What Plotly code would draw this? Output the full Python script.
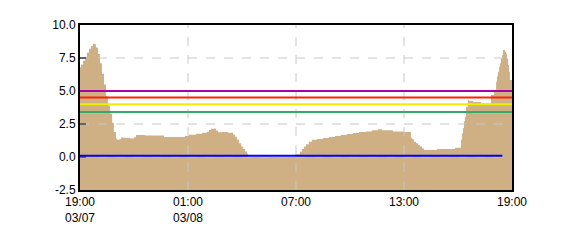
import plotly.graph_objects as go

YEAR = "2024-"
# area series (step values)
times = [
    "03-07 19:00", "03-07 19:03", "03-07 19:10", "03-07 19:17", "03-07 19:23", "03-07 19:30",
    "03-07 19:37", "03-07 19:43", "03-07 19:50", "03-07 19:53", "03-07 20:00", "03-07 20:07",
    "03-07 20:13", "03-07 20:20", "03-07 20:27", "03-07 20:33", "03-07 20:40", "03-07 20:47",
    "03-07 20:53", "03-07 21:00", "03-07 21:03", "03-07 21:10", "03-07 21:17", "03-07 21:23",
    "03-07 21:33", "03-07 21:47", "03-07 22:00", "03-07 22:07", "03-07 22:37", "03-07 23:40",
    "03-08 00:50", "03-08 01:03", "03-08 01:27", "03-08 01:47", "03-08 02:03", "03-08 02:10",
    "03-08 02:17", "03-08 02:27", "03-08 02:33", "03-08 02:40", "03-08 02:53", "03-08 03:13",
    "03-08 03:30", "03-08 03:37", "03-08 03:43", "03-08 03:50", "03-08 03:57", "03-08 04:03",
    "03-08 04:10", "03-08 04:17", "03-08 04:20", "03-08 06:57", "03-08 07:13", "03-08 07:20",
    "03-08 07:27", "03-08 07:33", "03-08 07:43", "03-08 07:53", "03-08 08:10", "03-08 08:30",
    "03-08 08:50", "03-08 09:10", "03-08 09:30", "03-08 09:50", "03-08 10:10", "03-08 10:30",
    "03-08 10:53", "03-08 11:13", "03-08 11:33", "03-08 11:47", "03-08 12:23", "03-08 13:00",
    "03-08 13:23", "03-08 13:27", "03-08 13:33", "03-08 13:40", "03-08 13:47", "03-08 13:53",
    "03-08 14:00", "03-08 14:07", "03-08 14:50", "03-08 15:50", "03-08 16:10", "03-08 16:13",
    "03-08 16:17", "03-08 16:20", "03-08 16:23", "03-08 16:27", "03-08 16:33", "03-08 16:37",
    "03-08 16:50", "03-08 17:17", "03-08 17:50", "03-08 18:00", "03-08 18:07", "03-08 18:10",
    "03-08 18:13", "03-08 18:17", "03-08 18:20", "03-08 18:23", "03-08 18:27", "03-08 18:30",
    "03-08 18:37", "03-08 18:40", "03-08 18:43", "03-08 18:47", "03-08 18:50", "03-08 18:53",
    "03-08 19:00",
]
values = [
    6.8, 7.0, 7.3, 7.6, 7.9, 8.2,
    8.4, 8.58, 8.55, 8.3, 7.8, 7.1,
    6.3, 5.5, 4.6, 3.9, 3.3, 2.6,
    1.9, 1.4, 1.3, 1.35, 1.5, 1.45,
    1.45, 1.4, 1.5, 1.67, 1.62, 1.52,
    1.6, 1.69, 1.77, 1.84, 1.92, 2.05,
    2.14, 2.15, 2.0, 1.88, 1.9, 1.84,
    1.7, 1.54, 1.3, 1.05, 0.8, 0.6,
    0.42, 0.25, 0.0, 0.2, 0.4, 0.6,
    0.8, 0.96, 1.16, 1.3, 1.36, 1.44,
    1.52, 1.59, 1.67, 1.74, 1.82, 1.89,
    1.94, 2.02, 2.1, 2.02, 1.94, 1.89,
    1.45, 1.34, 1.16, 1.05, 0.9, 0.8,
    0.65, 0.53, 0.6, 0.7, 1.3, 1.8,
    2.2, 2.7, 3.05, 3.8, 4.3, 4.24,
    4.17, 4.05, 4.7, 5.07, 5.7, 6.1,
    6.46, 6.84, 7.1, 7.47, 7.73, 8.1,
    7.95, 7.85, 7.47, 6.97, 6.46, 5.83,
    5.83,
]

# threshold lines
thr_values = [5.0, 4.5, 4.0, 3.4]
thr_colors = ["#aa00aa", "#ff2200", "#eeee00", "#33aa66"]

# zero reference line
zero_value = 0.1
zero_start = "03-07 19:00"
zero_end = "03-08 18:28"
zero_color = "#0000ff"

# axes
x_start = "03-07 19:00"
x_end = "03-08 19:00"
x_tickvals = ["03-07 19:00", "03-08 01:00", "03-08 07:00", "03-08 13:00", "03-08 19:00"]
x_ticktext = ["19:00<br>03/07", "01:00<br>03/08", "07:00", "13:00", "19:00"]
y_min, y_max = -2.5, 10.0
y_tickvals = [-2.5, 0.0, 2.5, 5.0, 7.5, 10.0]
x_grid = ["03-08 01:00", "03-08 07:00", "03-08 13:00"]
y_grid = [0.0, 2.5, 5.0, 7.5]

def ts(s):
    return YEAR + s.replace(" ", " ").replace("03-", "03-", 1)

def full(s):
    md, hm = s.split(" ")
    return f"{YEAR}{md} {hm}"

fig = go.Figure()
# baseline for fill
fig.add_trace(go.Scatter(x=[full(x_start), full(x_end)], y=[y_min, y_min], mode="lines",
                         line=dict(width=0), hoverinfo="skip", showlegend=False))
fig.add_trace(go.Scatter(x=[full(t) for t in times], y=values, mode="lines",
                         line=dict(width=0, shape="hv"), fill="tonexty",
                         fillcolor="#cfaf84", hoverinfo="skip", showlegend=False))

shapes = []
for g in x_grid:
    shapes.append(dict(type="line", xref="x", yref="paper", x0=full(g), x1=full(g), y0=0, y1=1,
                       line=dict(color="#c8c8c8", width=1, dash="dash"), layer="above"))
for g in y_grid:
    shapes.append(dict(type="line", xref="paper", yref="y", x0=0, x1=1, y0=g, y1=g,
                       line=dict(color="#c8c8c8", width=1, dash="dash"), layer="above"))
for v, c in zip(thr_values, thr_colors):
    shapes.append(dict(type="line", xref="paper", yref="y", x0=0, x1=1, y0=v, y1=v,
                       line=dict(color=c, width=2), layer="above"))
shapes.append(dict(type="line", xref="x", yref="y", x0=full(zero_start), x1=full(zero_end),
                   y0=zero_value, y1=zero_value, line=dict(color=zero_color, width=2), layer="above"))

fig.update_layout(
    width=570, height=250,
    margin=dict(l=80, r=58, t=25, b=60),
    paper_bgcolor="white", plot_bgcolor="white",
    font=dict(family="Liberation Sans, Arial, sans-serif", size=12, color="black"),
    showlegend=False,
    shapes=shapes,
    xaxis=dict(range=[full(x_start), full(x_end)], tickmode="array",
               tickvals=[full(t) for t in x_tickvals], ticktext=x_ticktext,
               showgrid=False, zeroline=False, showline=True, mirror=True,
               linecolor="black", linewidth=2, ticks="", layer="above traces"),
    yaxis=dict(range=[y_min, y_max], tickmode="array", tickvals=y_tickvals,
               ticktext=[f"{v:.1f}" for v in y_tickvals],
               showgrid=False, zeroline=False, showline=True, mirror=True,
               linecolor="black", linewidth=2, ticks="inside", ticklen=6, tickwidth=2,
               tickcolor="black", layer="above traces"),
)

fig.write_html("out.html")
